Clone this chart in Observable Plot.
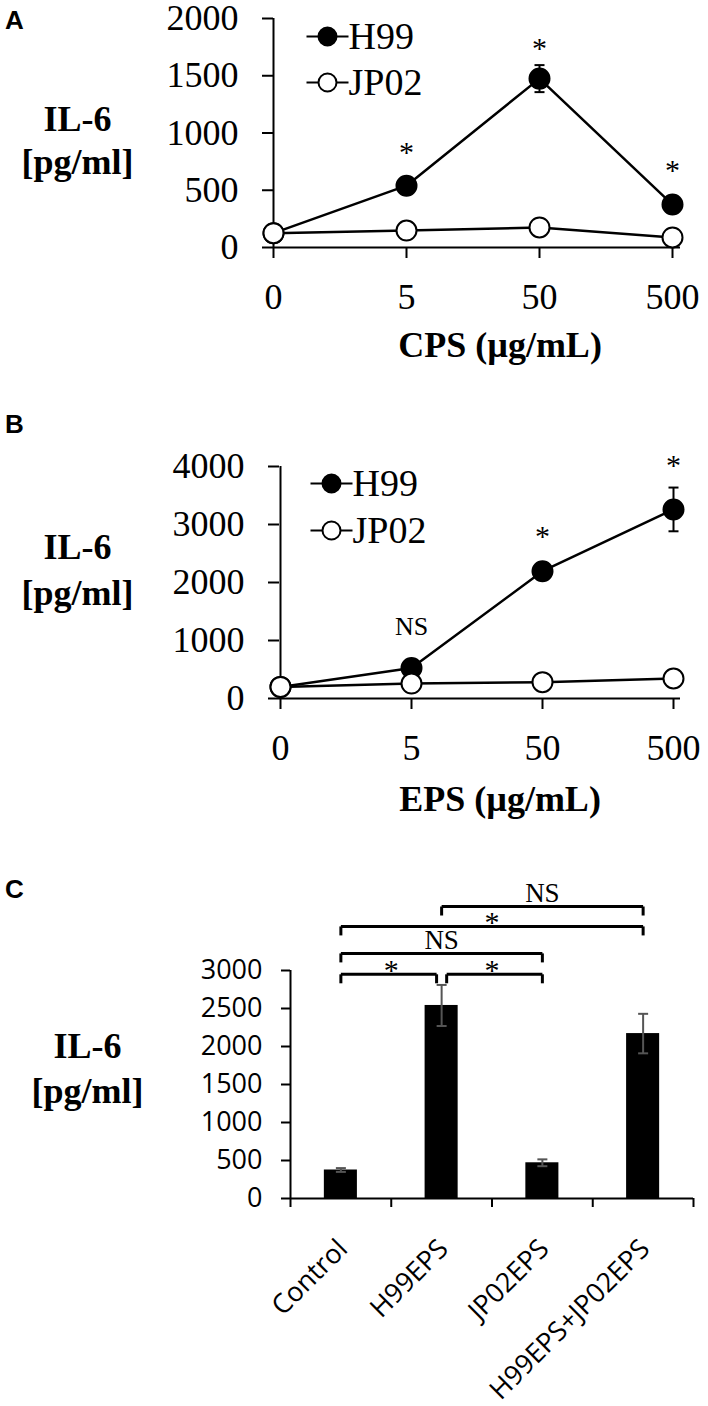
<!DOCTYPE html>
<html><head><meta charset="utf-8">
<script src="https://cdn.jsdelivr.net/npm/d3@7"></script>
<script src="https://cdn.jsdelivr.net/npm/@observablehq/plot@0.6"></script>
<style>
body{margin:0;background:#fff;}
#wrap{position:relative;width:708px;height:1406px;overflow:hidden;background:#fff;}
.panel{position:absolute;left:0;}
.tag{position:absolute;left:5px;font:bold 26px "Liberation Sans",Arial,sans-serif;line-height:1;}
</style></head><body><div id="wrap"></div><script>
// ---------- data ----------
const doses = ["0", "5", "50", "500"];
// Panel A: CPS
const cpsH99 = [125, 540, 1475, 375];
const cpsH99Err = [0, 0, 118, 0];
const cpsJP02 = [125, 148, 175, 88];
const cpsSig = ["", "*", "*", "*"];
const cpsSigY = [null, 875, 1780, 715];
const cpsTicks = [0, 500, 1000, 1500, 2000];
// Panel B: EPS
const epsH99 = [200, 525, 2195, 3260];
const epsH99Err = [0, 0, 0, 377];
const epsJP02 = [200, 258, 282, 345];
const epsSig = ["", "NS", "*", "*"];
const epsSigY = [null, 1240, 2880, 4100];
const epsTicks = [0, 1000, 2000, 3000, 4000];
// Panel C: bars
const groups = ["Control", "H99EPS", "JP02EPS", "H99EPS+JP02EPS"];
const groupMeans = [375, 2540, 470, 2170];
const groupErr = [25, 270, 45, 260];
const barTicks = [0, 500, 1000, 1500, 2000, 2500, 3000];
const bracketFrom = ["Control", "H99EPS", "Control", "Control", "H99EPS"];
const bracketTo = ["H99EPS", "JP02EPS", "JP02EPS", "H99EPS+JP02EPS", "H99EPS+JP02EPS"];
const bracketLevel = [2950, 2950, 3225, 3580, 3842];
const bracketLabel = ["*", "*", "NS", "*", "NS"];
const seriesNames = ["H99", "JP02"];

// ---------- styles ----------
const serif = "'Liberation Serif','Times New Roman',serif";
const sans = "'Open Sans','Liberation Sans',sans-serif";
const capSym = {draw(ctx) { ctx.moveTo(-5, 0); ctx.lineTo(5, 0); }};
const legLineSym = {draw(ctx) { ctx.moveTo(-21, 0); ctx.lineTo(21, 0); }};
const tickDownSym = {draw(ctx) { ctx.moveTo(0, 0); ctx.lineTo(0, 9); }};

const wrap = document.getElementById("wrap");
function place(svg, top) {
  svg.classList.add("panel");
  svg.style.top = top + "px";
  wrap.appendChild(svg);
}
function tag(letter, top) {
  const d = document.createElement("div");
  d.className = "tag"; d.textContent = letter; d.style.top = top + "px";
  wrap.appendChild(d);
}

function linePanel(c) {
  const rows = doses.map((d, i) => ({dose: d, h99: c.h99[i], err: c.err[i], jp02: c.jp02[i], sig: c.sig[i], sigY: c.sigY[i]}));
  const errRows = rows.filter(r => r.err > 0);
  const starRows = rows.filter(r => r.sig === "*");
  const nsRows = rows.filter(r => r.sig === "NS");
  const yMax = c.ticks[c.ticks.length - 1];
  const legend = seriesNames.map((n, i) => ({name: n, fill: i === 0 ? "black" : "white", dy: c.legDy[i]}));
  const legMarks = legend.flatMap(it => [
    Plot.dot([it], {frameAnchor: "top-left", dx: c.legDx, dy: it.dy, symbol: legLineSym, fill: "none", stroke: "black", strokeWidth: 2}),
    Plot.dot([it], {frameAnchor: "top-left", dx: c.legDx, dy: it.dy, r: 9, fill: it.fill, stroke: "black", strokeWidth: 2}),
    Plot.text([it], {frameAnchor: "top-left", dx: c.legDx + 21, dy: it.dy, text: d => d.name, textAnchor: "start", lineAnchor: "middle", fontSize: 38})
  ]);
  return Plot.plot({
    width: 708, height: c.height,
    marginTop: c.mt, marginBottom: c.mb, marginLeft: c.ml, marginRight: c.mr,
    style: {fontFamily: serif, background: "white", color: "black", overflow: "visible"},
    x: {type: "point", domain: doses, range: c.xRange, padding: 0, label: null},
    y: {domain: [0, yMax], label: null},
    marks: [
      Plot.ruleY([0], {strokeWidth: 2}),
      Plot.ruleX(["0"], {x: d => d, y1: () => 0, y2: () => yMax, strokeWidth: 2}),
      Plot.axisY({ticks: c.ticks, tickSize: 11, tickPadding: 24, fontSize: 36, strokeWidth: 2, tickFormat: d => String(d), label: null}),
      Plot.axisX({tickSize: 11, tickPadding: 25, fontSize: 36, strokeWidth: 2, label: null}),
      Plot.line(rows, {x: "dose", y: "jp02", strokeWidth: 2.5}),
      Plot.line(rows, {x: "dose", y: "h99", strokeWidth: 2.5}),
      Plot.link(errRows, {x1: "dose", x2: "dose", y1: r => r.h99 - r.err, y2: r => r.h99 + r.err, stroke: "black", strokeWidth: 2}),
      Plot.dot(errRows, {x: "dose", y: r => r.h99 + r.err, symbol: capSym, fill: "none", stroke: "black", strokeWidth: 2}),
      Plot.dot(errRows, {x: "dose", y: r => r.h99 - r.err, symbol: capSym, fill: "none", stroke: "black", strokeWidth: 2}),
      Plot.dot(rows, {x: "dose", y: "h99", r: 10, fill: "black", stroke: "black", strokeWidth: 2}),
      Plot.dot(rows, {x: "dose", y: "jp02", r: 10, fill: "white", stroke: "black", strokeWidth: 2}),
      Plot.text(starRows, {x: "dose", y: "sigY", text: "sig", fontSize: 30, lineAnchor: "middle", dy: 5}),
      Plot.text(nsRows, {x: "dose", y: "sigY", text: "sig", fontSize: 26, lineAnchor: "middle"}),
      ...legMarks,
      Plot.text(["IL-6"], {frameAnchor: "top-left", text: d => d, dx: c.labDx, dy: c.labDy[0], fontSize: 36, fontWeight: "bold", textAnchor: "middle", lineAnchor: "bottom"}),
      Plot.text(["[pg/ml]"], {frameAnchor: "top-left", text: d => d, dx: c.labDx, dy: c.labDy[1], fontSize: 36, fontWeight: "bold", textAnchor: "middle", lineAnchor: "bottom"}),
      Plot.text([c.title], {frameAnchor: "bottom", text: d => d, dx: c.titleDx, dy: c.titleDy, fontSize: 36, fontWeight: "bold", textAnchor: "middle", lineAnchor: "middle"})
    ]
  });
}

// Panel A
place(linePanel({
  height: 400, mt: 18, mb: 153, ml: 273, mr: 28, xRange: [273, 672],
  h99: cpsH99, err: cpsH99Err, jp02: cpsJP02, sig: cpsSig, sigY: cpsSigY, ticks: cpsTicks,
  legDx: 54, legDy: [18, 64], labDx: -196, labDy: [112, 155],
  title: "CPS (\u00b5g/mL)", titleDx: 23, titleDy: 98
}), 0);
tag("A", 7);

// Panel B
place(linePanel({
  height: 440, mt: 66, mb: 142, ml: 279, mr: 28, xRange: [279, 673],
  h99: epsH99, err: epsH99Err, jp02: epsJP02, sig: epsSig, sigY: epsSigY, ticks: epsTicks,
  legDx: 52, legDy: [17, 64], labDx: -202, labDy: [92, 138],
  title: "EPS (\u00b5g/mL)", titleDx: 20, titleDy: 101
}), 400);
tag("B", 411);

// Panel C
const tableC = groups.map((g, i) => ({name: g, i, mean: groupMeans[i], err: groupErr[i]}));
const halfBar = 0.164;
const endGap = 0.05;
const boundaries = d3.range(groups.length + 1).map(k => k - 0.5);
const br = bracketFrom.map((f, k) => ({from: groups.indexOf(f), to: groups.indexOf(bracketTo[k]), level: bracketLevel[k], label: bracketLabel[k]}));
br.forEach(b => {
  const sharedFrom = br.some(o => o !== b && o.level === b.level && (o.to === b.from));
  const sharedTo = br.some(o => o !== b && o.level === b.level && (o.from === b.to));
  b.x1 = b.from + (sharedFrom ? endGap : 0);
  b.x2 = b.to - (sharedTo ? endGap : 0);
  b.mid = (b.from + b.to) / 2;
});
const brEnds = br.flatMap(b => [{x: b.x1, y: b.level}, {x: b.x2, y: b.level}]);

place(Plot.plot({
  width: 708, height: 566, marginTop: 130, marginBottom: 208, marginLeft: 290, marginRight: 15,
  style: {fontFamily: sans, background: "white", color: "black", overflow: "visible"},
  x: {type: "linear", domain: [-0.5, groups.length - 0.5], label: null},
  y: {domain: [0, 3000], label: null},
  marks: [
    Plot.rect(tableC, {x1: d => d.i - halfBar, x2: d => d.i + halfBar, y1: () => 0, y2: "mean", fill: "black"}),
    Plot.link(tableC, {x1: "i", x2: "i", y1: d => d.mean - d.err, y2: d => d.mean + d.err, stroke: "#555", strokeWidth: 2}),
    Plot.dot(tableC, {x: "i", y: d => d.mean + d.err, symbol: capSym, fill: "none", stroke: "#555", strokeWidth: 2}),
    Plot.dot(tableC, {x: "i", y: d => d.mean - d.err, symbol: capSym, fill: "none", stroke: "#555", strokeWidth: 2}),
    Plot.ruleY([0], {strokeWidth: 2}),
    Plot.ruleX([-0.5], {x: d => d, y1: () => 0, y2: () => 3000, strokeWidth: 2}),
    Plot.axisY({ticks: barTicks, tickSize: 9, tickPadding: 19, fontSize: 27, strokeWidth: 2, tickFormat: d => String(d), label: null}),
    Plot.axisX({ticks: boundaries, tickSize: 9, tickFormat: () => "", strokeWidth: 2, label: null}),
    Plot.text(tableC, {x: "i", text: "name", frameAnchor: "bottom", rotate: -45, textAnchor: "end", lineAnchor: "middle", dx: 2, dy: 46, fontSize: 27}),
    Plot.link(br, {x1: "x1", x2: "x2", y1: "level", y2: "level", stroke: "black", strokeWidth: 3}),
    Plot.dot(brEnds, {x: "x", y: "y", symbol: tickDownSym, fill: "none", stroke: "black", strokeWidth: 3}),
    Plot.text(br.filter(b => b.label === "*"), {x: "mid", y: "level", text: "label", fontFamily: serif, fontSize: 30, lineAnchor: "middle", dy: -4}),
    Plot.text(br.filter(b => b.label === "NS"), {x: "mid", y: "level", text: "label", fontFamily: serif, fontSize: 27, lineAnchor: "middle", dy: -13}),
    Plot.text(["IL-6"], {frameAnchor: "top-left", text: d => d, dx: -203, dy: 87, fontFamily: serif, fontSize: 36, fontWeight: "bold", textAnchor: "middle", lineAnchor: "bottom"}),
    Plot.text(["[pg/ml]"], {frameAnchor: "top-left", text: d => d, dx: -203, dy: 132, fontFamily: serif, fontSize: 36, fontWeight: "bold", textAnchor: "middle", lineAnchor: "bottom"})
  ]
}), 840);
tag("C", 876);
</script></body></html>
